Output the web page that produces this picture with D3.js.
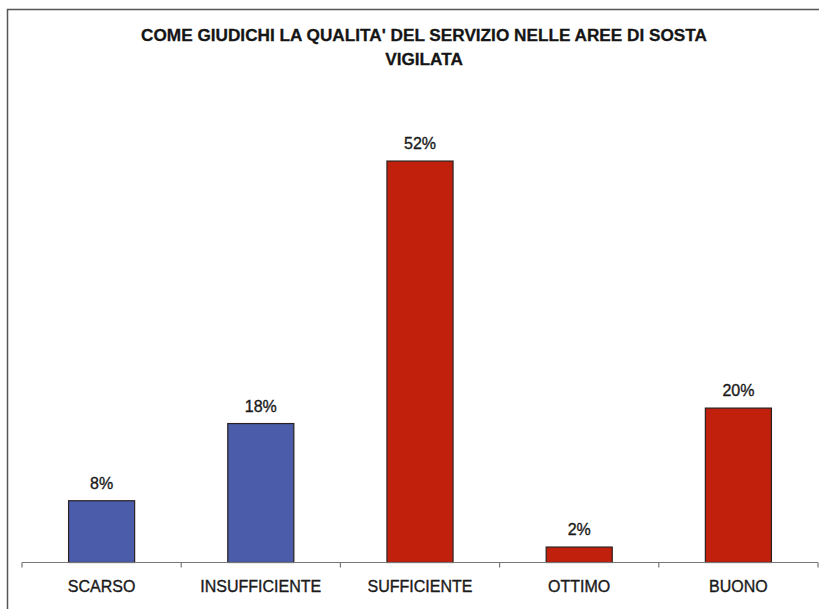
<!DOCTYPE html>
<html>
<head>
<meta charset="utf-8">
<script src="https://cdn.jsdelivr.net/npm/d3@7"></script>
<style>
  html, body { margin: 0; padding: 0; background: #ffffff; }
  svg { display: block; font-family: Arial, "Liberation Sans", sans-serif; }
</style>
</head>
<body>
<svg id="chart" width="819" height="609"></svg>
<script>
// Survey answers: quality of service in the supervised parking areas
const categories = ["SCARSO", "INSUFFICIENTE", "SUFFICIENTE", "OTTIMO", "BUONO"];
const values = [8, 18, 52, 2, 20];
const valueLabels = ["8%", "18%", "52%", "2%", "20%"];
const barColors = ["#4a5caa", "#4a5caa", "#c0200c", "#c0200c", "#c0200c"];
const titleLines = ["COME GIUDICHI LA QUALITA' DEL SERVIZIO NELLE AREE DI SOSTA", "VIGILATA"];

const svg = d3.select("#chart");
const W = 819, H = 609;

// frame around the whole chart
svg.append("rect")
  .attr("x", 7.5).attr("y", 9.5)
  .attr("width", W + 10).attr("height", H + 10)
  .attr("fill", "none")
  .attr("stroke", "#555")
  .attr("stroke-width", 1.5);

// title
svg.append("g").selectAll("text")
  .data(titleLines)
  .join("text")
  .attr("x", 424)
  .attr("y", (d, i) => 41 + i * 24)
  .attr("text-anchor", "middle")
  .attr("font-size", 17.2)
  .attr("font-weight", "bold")
  .attr("fill", "#151515")
  .attr("stroke", "#151515")
  .attr("stroke-width", 0.3)
  .text(d => d);

const x = d3.scaleBand()
  .domain(categories)
  .range([22, 818])
  .paddingInner(0.585)
  .paddingOuter(0.2925);

const y = d3.scaleLinear()
  .domain([0, 60])
  .range([562.5, 99.3]);

// bars
svg.append("g").selectAll("rect")
  .data(values)
  .join("rect")
  .attr("x", (d, i) => x(categories[i]))
  .attr("y", d => y(d))
  .attr("width", x.bandwidth())
  .attr("height", d => y(0) - y(d))
  .attr("fill", (d, i) => barColors[i])
  .attr("stroke", "#2a2020")
  .attr("stroke-width", 1.2);

// value labels
svg.append("g").selectAll("text")
  .data(values)
  .join("text")
  .attr("x", (d, i) => x(categories[i]) + x.bandwidth() / 2)
  .attr("y", d => y(d) - 12)
  .attr("text-anchor", "middle")
  .attr("font-size", 16)
  .attr("fill", "#1a1a1a")
  .attr("stroke", "#1a1a1a")
  .attr("stroke-width", 0.35)
  .text((d, i) => valueLabels[i]);

// category axis: baseline, boundary ticks and labels
const axisG = svg.append("g");
const step = x.step();
const x0 = x.range()[0];
axisG.append("line")
  .attr("x1", x0).attr("x2", x.range()[1])
  .attr("y1", y(0)).attr("y2", y(0))
  .attr("stroke", "#777").attr("stroke-width", 1.2);
axisG.selectAll("line.tick")
  .data(d3.range(categories.length + 1))
  .join("line")
  .attr("class", "tick")
  .attr("x1", i => x0 + i * step).attr("x2", i => x0 + i * step)
  .attr("y1", y(0)).attr("y2", y(0) + 5)
  .attr("stroke", "#777").attr("stroke-width", 1.2);
axisG.selectAll("text")
  .data(categories)
  .join("text")
  .attr("x", d => x(d) + x.bandwidth() / 2)
  .attr("y", 592)
  .attr("text-anchor", "middle")
  .attr("font-size", 16)
  .attr("fill", "#1a1a1a")
  .attr("stroke", "#1a1a1a")
  .attr("stroke-width", 0.35)
  .text(d => d);
</script>
</body>
</html>
